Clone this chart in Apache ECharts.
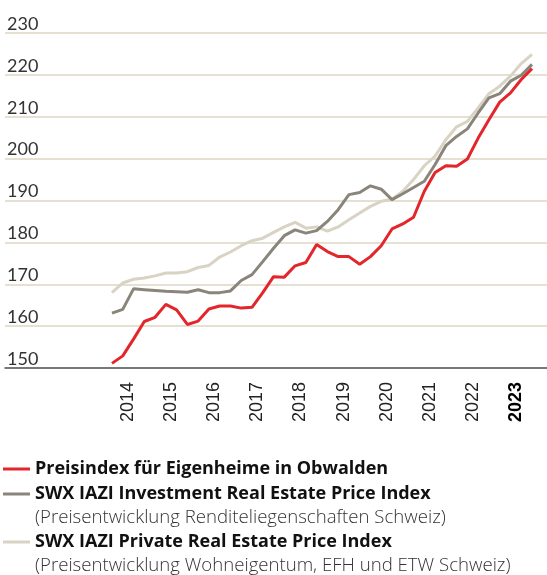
<!DOCTYPE html>
<html>
<head>
<meta charset="utf-8">
<title>Preisindex Obwalden</title>
<script src="https://cdn.jsdelivr.net/npm/echarts@6/dist/echarts.min.js"></script>
<style>
  html, body { margin: 0; padding: 0; background: #fff; }
  #chart { width: 547px; height: 575px; }
</style>
</head>
<body>
<div id="chart"></div>
<script>
// Jahre (Achsenbeschriftung), Quartalswerte 2014 Q1 - 2023 Q4
var years = ['2014', '2015', '2016', '2017', '2018', '2019', '2020', '2021', '2022', '2023'];
var yTicks = [150, 160, 170, 180, 190, 200, 210, 220, 230];

// Preisindex für Eigenheime in Obwalden
var obwalden = [
    151.1, 152.9, 156.9, 161.1, 162.1, 165.2, 163.9, 160.4, 161.2, 164.1,
    164.8, 164.8, 164.3, 164.5, 168.0, 171.8, 171.7, 174.4, 175.2, 179.5,
    177.8, 176.6, 176.6, 174.8, 176.6, 179.2, 183.2, 184.4, 186.0, 192.2,
    196.7, 198.3, 198.2, 199.9, 204.9, 209.3, 213.5, 215.7, 218.9, 221.5
];
// SWX IAZI Investment Real Estate Price Index
var investment = [
    163.1, 164.0, 168.9, 168.7, 168.5, 168.3, 168.2, 168.1, 168.7, 168.0,
    168.0, 168.4, 170.9, 172.3, 175.4, 178.6, 181.6, 183.0, 182.2, 182.8,
    185.0, 187.8, 191.4, 191.9, 193.5, 192.7, 190.2, 191.6, 193.1, 194.6,
    198.6, 203.1, 205.3, 207.1, 210.9, 214.5, 215.5, 218.5, 219.9, 222.5
];
// SWX IAZI Private Real Estate Price Index
var privat = [
    168.0, 170.3, 171.2, 171.5, 172.0, 172.7, 172.7, 173.0, 174.0, 174.5,
    176.5, 177.7, 179.2, 180.4, 181.0, 182.4, 183.7, 184.8, 183.4, 183.7,
    182.7, 183.7, 185.4, 187.0, 188.6, 189.8, 190.3, 192.2, 195.0, 198.3,
    200.6, 204.5, 207.6, 208.9, 212.1, 215.5, 217.3, 219.7, 222.7, 224.9
];

var quarters = [];
years.forEach(function (y) {
    for (var q = 1; q <= 4; q++) quarters.push(y + ' Q' + q);
});

var myChart = echarts.init(document.getElementById('chart'));

var legendText = {
    fontFamily: 'Open Sans',
    fontSize: 18,
    fontWeight: 'bold',
    color: '#111'
};

myChart.setOption({
    animation: false,
    color: ['#d9d3c4', '#8a857b', '#e3262b'],
    grid: [
        { left: 5, right: 0, top: 33, bottom: 207 },       // Rasterlinien über volle Breite
        { left: 106.6, right: 9.6, top: 33, bottom: 207 }  // Kurven
    ],
    xAxis: [
        {
            gridIndex: 0, type: 'value', min: 0, max: 1,
            axisLine: { onZero: false, lineStyle: { color: '#555', width: 1.5 } },
            axisTick: { show: false }, axisLabel: { show: false }, splitLine: { show: false }
        },
        {
            gridIndex: 1, type: 'category', data: quarters, boundaryGap: true,
            position: 'top', show: false
        },
        {
            gridIndex: 1, type: 'category', data: years, boundaryGap: true,
            position: 'bottom',
            axisLine: { show: false }, axisTick: { show: false },
            axisLabel: {
                rotate: 90,
                margin: 14,
                fontFamily: 'Liberation Sans',
                fontSize: 18,
                color: '#222',
                formatter: function (v, i) {
                    return i === years.length - 1 ? '{b|' + v + '}' : v;
                },
                rich: {
                    b: { fontFamily: 'Liberation Sans', fontSize: 18, fontWeight: 'bold', color: '#000' }
                }
            }
        }
    ],
    yAxis: [
        {
            gridIndex: 0, type: 'value',
            min: yTicks[0], max: yTicks[yTicks.length - 1], interval: 10,
            axisLine: { show: false }, axisTick: { show: false },
            axisLabel: {
                inside: true,
                margin: 2,
                verticalAlign: 'bottom',
                fontFamily: 'Lato',
                fontSize: 18,
                color: '#333'
            },
            splitLine: { lineStyle: { color: '#e6e0d3', width: 2 } }
        },
        {
            gridIndex: 1, type: 'value',
            min: yTicks[0], max: yTicks[yTicks.length - 1], show: false
        }
    ],
    legend: [
        {
            data: ['Preisindex für Eigenheime in Obwalden'],
            left: 3, top: 460, padding: 0, icon: 'rect', itemWidth: 27, itemHeight: 3,
            selectedMode: false, textStyle: legendText
        },
        {
            data: ['SWX IAZI Investment Real Estate Price Index'],
            left: 3, top: 485, padding: 0, icon: 'rect', itemWidth: 27, itemHeight: 3,
            selectedMode: false, textStyle: legendText
        },
        {
            data: ['SWX IAZI Private Real Estate Price Index'],
            left: 3, top: 533, padding: 0, icon: 'rect', itemWidth: 27, itemHeight: 3,
            selectedMode: false, textStyle: legendText
        }
    ],
    graphic: [
        {
            type: 'text', left: 35, top: 508,
            style: {
                text: '(Preisentwicklung Renditeliegenschaften Schweiz)',
                font: '300 18.6px "Open Sans"', fill: '#333'
            }
        },
        {
            type: 'text', left: 35, top: 556,
            style: {
                text: '(Preisentwicklung Wohneigentum, EFH und ETW Schweiz)',
                font: '300 18.6px "Open Sans"', fill: '#333'
            }
        }
    ],
    series: [
        {
            name: 'SWX IAZI Private Real Estate Price Index',
            type: 'line', xAxisIndex: 1, yAxisIndex: 1,
            data: privat, showSymbol: false, lineStyle: { width: 3 }
        },
        {
            name: 'SWX IAZI Investment Real Estate Price Index',
            type: 'line', xAxisIndex: 1, yAxisIndex: 1,
            data: investment, showSymbol: false, lineStyle: { width: 3 }
        },
        {
            name: 'Preisindex für Eigenheime in Obwalden',
            type: 'line', xAxisIndex: 1, yAxisIndex: 1,
            data: obwalden, showSymbol: false, lineStyle: { width: 3 }
        }
    ]
});
</script>
</body>
</html>
